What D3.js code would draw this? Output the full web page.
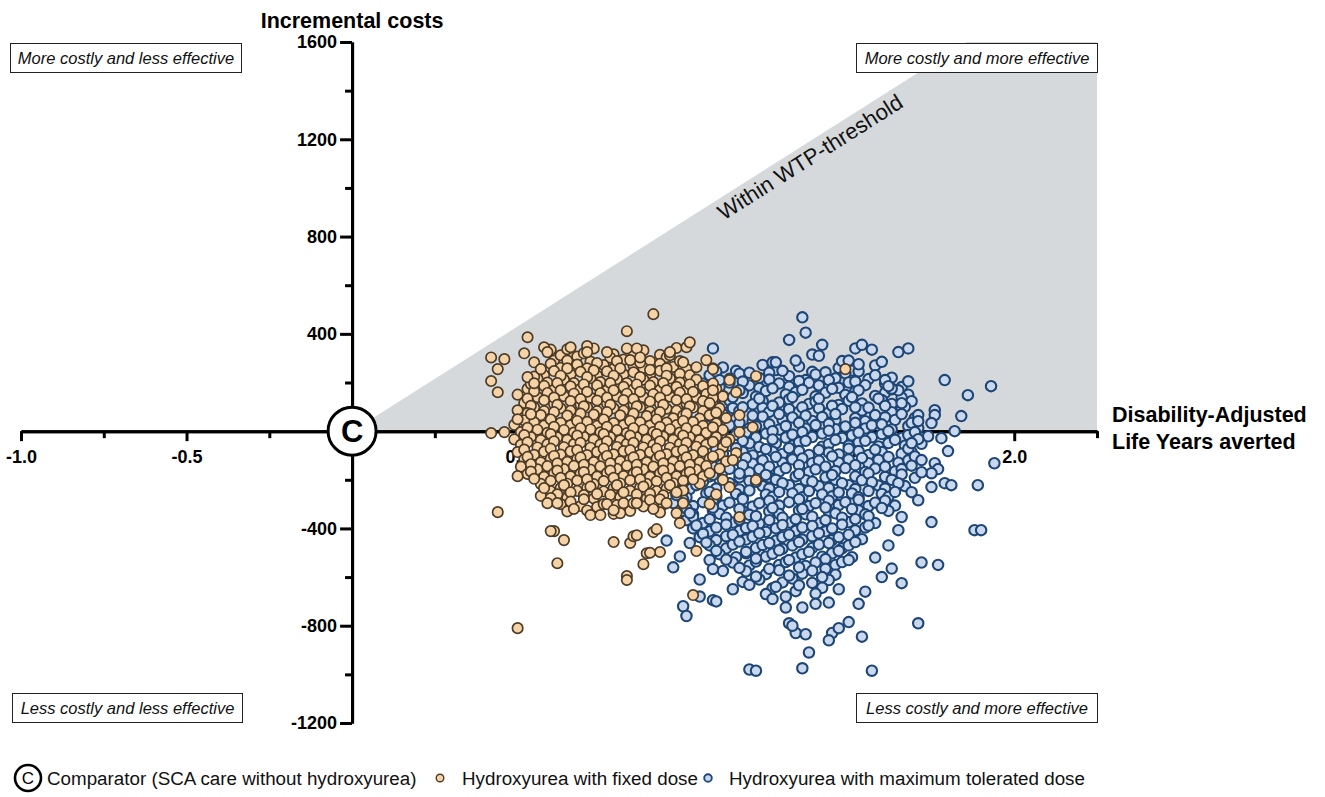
<!DOCTYPE html>
<html>
<head>
<meta charset="utf-8">
<script src="https://cdn.jsdelivr.net/npm/d3@7"></script>
<style>
  body { margin: 0; background: #fff; }
  svg { display: block; }
  text { font-family: "Liberation Sans", Arial, Helvetica, sans-serif; }
</style>
</head>
<body>
<svg id="chart" width="1325" height="797"></svg>
<script>
// ---- axis ticks ----
const xMajorTicks = [-1, -0.5, 0.5, 1, 1.5, 2];
const xMinorTicks = [-0.75, -0.25, 0.25, 0.75, 1.25, 1.75, 2.25];
const yMajorTicks = [1600, 1200, 800, 400, -400, -800, -1200];
const yMinorTicks = [1400, 1000, 600, 200, -200, -600, -1000];

// willingness-to-pay threshold (costs per DALY averted)
const wtpThreshold = 862;

// ---- quadrant and legend texts ----
const quadrantLabels = [
  "More costly and less effective",
  "More costly and more effective",
  "Less costly and less effective",
  "Less costly and more effective"
];
const legendLabels = [
  "Comparator (SCA care without hydroxyurea)",
  "Hydroxyurea with fixed dose",
  "Hydroxyurea with maximum tolerated dose"
];

// ---- PSA iterations: [DALYs averted, incremental costs] ----
const maxTolerated = [
  [1.12,262],[1.16,248],[1.24,272],[1.28,251],[1.35,266],[1.39,244],[1.47,260],[1.51,249],[1.58,270],
  [1.08,230],[1.14,215],[1.17,236],[1.23,219],[1.26,240],[1.32,226],[1.37,210],[1.40,233],[1.46,217],[1.49,238],[1.56,214],[1.58,230],[1.63,220],
  [1.06,195],[1.11,181],[1.14,200],[1.20,188],[1.23,177],[1.29,196],[1.32,183],[1.38,199],[1.41,188],[1.47,178],[1.50,200],[1.55,189],[1.61,196],[1.66,181],
  [1.04,150],[1.09,163],[1.12,145],[1.18,157],[1.22,142],[1.25,165],[1.31,151],[1.34,160],[1.40,143],[1.43,158],[1.49,149],[1.52,163],[1.58,145],[1.61,158],[1.68,150],
  [1.03,115],[1.06,128],[1.12,112],[1.14,126],[1.21,110],[1.24,124],[1.29,118],[1.32,130],[1.38,112],[1.40,121],[1.47,108],[1.50,125],[1.54,114],[1.60,128],[1.63,112],[1.69,123],
  [1.01,80],[1.07,92],[1.09,78],[1.15,95],[1.17,83],[1.24,96],[1.26,79],[1.32,90],[1.35,80],[1.41,94],[1.44,77],[1.48,91],[1.54,85],[1.56,97],[1.63,78],[1.66,90],
  [1.04,46],[1.06,58],[1.13,44],[1.16,52],[1.21,40],[1.24,60],[1.30,47],[1.33,56],[1.39,42],[1.42,58],[1.46,45],[1.52,53],[1.55,41],[1.61,57],[1.64,46],[1.70,54],
  [1.02,10],[1.07,22],[1.10,8],[1.14,24],[1.20,12],[1.22,20],[1.29,6],[1.31,21],[1.37,10],[1.40,25],[1.46,8],[1.49,19],[1.55,11],[1.57,24],[1.63,7],[1.68,20],[1.71,12],
  [1.05,-24],[1.08,-12],[1.13,-28],[1.16,-15],[1.22,-26],[1.25,-10],[1.31,-27],[1.33,-14],[1.39,-24],[1.42,-10],[1.48,-28],[1.51,-17],[1.57,-25],[1.60,-12],[1.66,-28],[1.68,-16],
  [1.01,-50],[1.06,-63],[1.11,-46],[1.14,-60],[1.20,-50],[1.23,-65],[1.28,-50],[1.33,-60],[1.35,-46],[1.42,-64],[1.44,-53],[1.50,-60],[1.53,-46],[1.59,-63],[1.62,-49],[1.67,-60],[1.72,-52],
  [1.00,-86],[1.05,-98],[1.08,-82],[1.12,-95],[1.18,-85],[1.21,-100],[1.27,-84],[1.30,-94],[1.35,-82],[1.38,-98],[1.44,-88],[1.47,-96],[1.53,-82],[1.56,-98],[1.60,-86],[1.66,-93],[1.69,-86],
  [0.99,-120],[1.04,-132],[1.07,-116],[1.13,-130],[1.16,-118],[1.21,-134],[1.24,-120],[1.30,-130],[1.33,-116],[1.39,-132],[1.41,-121],[1.47,-130],[1.50,-116],[1.56,-132],[1.59,-118],[1.65,-130],[1.68,-120],
  [0.98,-156],[1.03,-168],[1.06,-152],[1.12,-166],[1.14,-155],[1.20,-170],[1.23,-156],[1.29,-166],[1.31,-152],[1.38,-168],[1.40,-157],[1.46,-164],[1.49,-152],[1.55,-168],[1.58,-154],[1.64,-166],[1.66,-156],
  [0.99,-190],[1.02,-202],[1.08,-186],[1.11,-200],[1.17,-190],[1.20,-205],[1.26,-190],[1.28,-200],[1.34,-186],[1.37,-202],[1.43,-190],[1.46,-200],[1.52,-186],[1.54,-202],[1.61,-188],[1.63,-200],[1.70,-192],
  [0.97,-226],[1.02,-238],[1.04,-222],[1.10,-236],[1.15,-224],[1.17,-240],[1.24,-226],[1.26,-236],[1.32,-222],[1.35,-238],[1.41,-226],[1.44,-234],[1.50,-222],[1.52,-238],[1.59,-224],[1.61,-236],[1.67,-226],
  [0.98,-260],[1.01,-272],[1.07,-256],[1.10,-270],[1.16,-258],[1.18,-274],[1.25,-260],[1.27,-270],[1.33,-256],[1.36,-272],[1.42,-260],[1.45,-268],[1.51,-256],[1.53,-272],[1.60,-258],[1.62,-270],
  [0.97,-296],[1.03,-308],[1.06,-292],[1.12,-306],[1.14,-294],[1.21,-310],[1.23,-296],[1.29,-306],[1.32,-292],[1.38,-308],[1.40,-296],[1.47,-304],[1.49,-292],[1.56,-308],[1.58,-294],[1.64,-306],
  [1.00,-330],[1.03,-342],[1.09,-326],[1.11,-340],[1.18,-328],[1.20,-344],[1.26,-330],[1.29,-340],[1.35,-326],[1.37,-342],[1.44,-330],[1.46,-338],[1.53,-326],[1.55,-342],[1.62,-328],
  [1.01,-366],[1.06,-378],[1.08,-362],[1.15,-376],[1.17,-364],[1.23,-380],[1.26,-366],[1.32,-376],[1.34,-362],[1.41,-378],[1.43,-366],[1.50,-374],[1.52,-362],[1.58,-378],
  [1.03,-400],[1.08,-412],[1.10,-396],[1.17,-410],[1.19,-398],[1.25,-414],[1.28,-400],[1.34,-410],[1.36,-396],[1.43,-412],[1.45,-400],[1.52,-408],[1.55,-396],
  [1.05,-436],[1.10,-448],[1.13,-432],[1.19,-446],[1.21,-434],[1.28,-450],[1.30,-436],[1.36,-446],[1.39,-432],[1.45,-448],[1.47,-436],[1.54,-444],
  [1.08,-470],[1.13,-482],[1.15,-466],[1.22,-480],[1.24,-468],[1.30,-484],[1.33,-470],[1.39,-480],[1.41,-466],[1.48,-482],[1.50,-470],
  [1.11,-506],[1.16,-518],[1.19,-502],[1.25,-516],[1.27,-504],[1.34,-520],[1.36,-506],[1.42,-516],[1.45,-502],[1.51,-518],
  [1.15,-540],[1.20,-552],[1.22,-536],[1.29,-550],[1.31,-538],[1.37,-554],[1.40,-540],[1.46,-550],[1.48,-538],
  [1.19,-576],[1.25,-588],[1.29,-572],[1.36,-586],[1.39,-574],[1.46,-590],
  [1.23,-610],[1.30,-622],[1.33,-606],[1.39,-624],[1.44,-612],
  [1.27,-646],[1.34,-658],
  [1.18,-620],[1.20,-632],[1.28,-640],[1.35,-634],[1.42,-644],[1.25,-670],[1.31,-680],[1.40,-668],[1.47,-650],
  // second band of iterations inside the main cloud
  [1.10,245],[1.20,240],[1.30,248],[1.43,242],[1.53,246],
  [1.11,210],[1.18,204],[1.26,212],[1.35,206],[1.44,210],[1.52,204],[1.61,210],
  [1.08,172],[1.17,168],[1.27,176],[1.36,170],[1.45,174],[1.53,168],[1.63,172],
  [1.06,136],[1.15,140],[1.23,134],[1.33,140],[1.41,134],[1.51,140],[1.59,134],[1.66,138],
  [1.05,100],[1.10,104],[1.18,98],[1.27,104],[1.36,98],[1.45,104],[1.52,98],[1.61,104],[1.67,100],
  [1.04,66],[1.12,70],[1.21,64],[1.29,70],[1.37,64],[1.46,70],[1.58,66],[1.66,70],
  [1.05,30],[1.17,34],[1.26,28],[1.35,34],[1.44,30],[1.52,34],[1.60,28],[1.69,34],
  [1.04,-4],[1.11,0],[1.19,-6],[1.27,0],[1.36,-4],[1.44,2],[1.53,-6],[1.62,0],[1.70,-4],
  [1.03,-38],[1.10,-34],[1.18,-40],[1.27,-34],[1.37,-40],[1.46,-36],[1.55,-40],[1.64,-36],
  [1.03,-72],[1.10,-76],[1.16,-70],[1.25,-74],[1.32,-70],[1.41,-78],[1.50,-72],[1.58,-76],[1.68,-72],
  [1.02,-108],[1.10,-104],[1.19,-110],[1.28,-106],[1.36,-112],[1.45,-104],[1.54,-110],[1.62,-106],[1.70,-104],
  [1.01,-142],[1.09,-146],[1.18,-140],[1.26,-146],[1.35,-140],[1.43,-146],[1.52,-140],[1.61,-146],[1.69,-142],
  [1.00,-176],[1.09,-180],[1.17,-174],[1.25,-180],[1.35,-176],[1.45,-180],[1.56,-174],[1.66,-178],
  [1.00,-212],[1.06,-208],[1.14,-214],[1.22,-208],[1.30,-214],[1.39,-208],[1.48,-214],[1.57,-210],[1.65,-214],
  [1.00,-246],[1.08,-250],[1.20,-244],[1.29,-250],[1.38,-246],[1.47,-252],[1.56,-246],[1.64,-250],
  [1.00,-282],[1.09,-286],[1.18,-280],[1.26,-286],[1.35,-280],[1.44,-286],[1.53,-282],[1.61,-286],
  [1.01,-318],[1.09,-314],[1.17,-320],[1.27,-316],[1.36,-320],[1.43,-314],[1.51,-320],[1.60,-316],
  [1.03,-352],[1.13,-356],[1.22,-350],[1.30,-356],[1.39,-352],[1.48,-356],[1.56,-350],
  [1.04,-388],[1.13,-384],[1.21,-390],[1.30,-386],[1.39,-390],[1.48,-384],[1.56,-388],
  [1.06,-422],[1.15,-426],[1.23,-420],[1.32,-426],[1.41,-420],[1.50,-426],
  [1.07,-458],[1.17,-454],[1.26,-460],[1.35,-456],[1.44,-460],[1.52,-456],
  [1.10,-492],[1.19,-496],[1.29,-490],[1.38,-496],[1.47,-492],
  [1.13,-528],[1.22,-524],[1.32,-530],[1.43,-526],[1.50,-530],
  [1.17,-562],[1.26,-566],[1.35,-560],[1.43,-566],
  [1.22,-598],[1.32,-594],[1.42,-600],
  // sparse iterations around the main cloud
  [1.36,468],[1.37,405],[1.32,375],[1.09,340],[1.42,355],[1.52,340],[1.54,355],[1.57,335],[1.65,325],[1.68,340],
  [1.60,285],[1.39,315],[1.41,310],[1.27,283],[1.28,283],[1.34,290],[1.48,288],[1.50,290],[1.53,275],
  [1.68,205],[1.65,168],[1.66,115],[1.63,175],[1.62,185],[1.79,210],[1.86,148],[1.93,185],[1.84,62],[1.82,0],
  [1.76,86],[1.71,66],[1.71,41],[1.76,66],[1.75,33],[1.78,-29],[1.74,-21],[1.71,-33],[1.69,-49],[1.80,-82],
  [1.72,-119],[1.76,-132],[1.77,-156],[1.75,-173],[1.79,-214],[1.81,-222],[1.89,-222],[1.94,-132],[1.72,-169],
  [1.69,-251],[1.71,-284],[1.75,-230],[1.75,-374],[1.88,-407],[1.90,-407],[1.66,-353],[1.65,-407],
  [1.77,-550],[1.72,-540],[1.66,-625],[1.63,-565],[1.71,-790],[1.57,-985],[1.36,-975],[1.20,-980],[1.22,-985],
  [1.38,-910],[1.54,-845],[1.53,-710],[1.50,-785],[1.45,-830],[1.44,-860],[1.47,-810],[1.34,-830],[1.37,-835],
  [1.32,-790],[1.33,-800],[1.27,-690],[1.31,-725],[1.36,-725],[1.40,-710],[1.44,-705],[1.00,-720],[1.01,-760],
  [1.05,-680],[1.09,-695],[1.10,-700],[1.05,-610],[0.99,-515],[1.02,-460],[1.08,-530],[1.12,-575],[1.09,-567],
  [0.98,-263],[1.02,-337],[0.95,-450],[0.97,-560],[1.55,-660],[1.60,-600],[1.58,-520],[1.62,-470],[1.15,-650]
];

const fixedDose = [
  [0.60,335],[0.66,318],[0.73,340],[0.79,316],[0.88,332],[0.93,314],[0.98,342],
  [0.61,290],[0.68,307],[0.72,286],[0.78,302],[0.82,294],[0.90,288],[0.95,304],
  [0.60,277],[0.63,260],[0.68,274],[0.71,258],[0.76,272],[0.79,256],[0.85,270],[0.88,260],[0.93,277],[0.97,264],[1.01,256],
  [0.58,230],[0.61,247],[0.66,234],[0.69,244],[0.74,228],[0.77,246],[0.82,234],[0.85,242],[0.90,229],[0.93,248],[0.99,236],[1.02,230],
  [0.56,216],[0.59,200],[0.64,212],[0.67,198],[0.72,218],[0.75,202],[0.80,214],[0.83,198],[0.88,212],[0.91,202],[0.96,217],[0.99,200],[1.04,212],
  [0.53,174],[0.58,186],[0.61,170],[0.66,184],[0.69,174],[0.74,188],[0.77,168],[0.82,182],[0.85,172],[0.90,187],[0.93,170],[0.98,182],[1.01,168],[1.06,185],[1.10,174],
  [0.50,150],[0.56,140],[0.59,157],[0.64,144],[0.67,154],[0.72,138],[0.75,156],[0.80,143],[0.83,154],[0.88,140],[0.91,152],[0.96,142],[0.99,158],[1.04,140],[1.07,152],[1.12,143],
  [0.52,116],[0.58,127],[0.61,112],[0.66,124],[0.69,110],[0.74,126],[0.77,114],[0.82,128],[0.85,110],[0.90,122],[0.93,112],[0.98,128],[1.01,114],[1.06,124],[1.09,110],
  [0.50,86],[0.55,97],[0.58,82],[0.63,94],[0.66,84],[0.71,98],[0.74,82],[0.79,94],[0.82,84],[0.87,98],[0.90,80],[0.95,92],[0.98,84],[1.03,97],[1.06,82],[1.11,94],
  [0.52,56],[0.57,66],[0.60,53],[0.65,64],[0.68,52],[0.73,68],[0.76,55],[0.81,65],[0.84,50],[0.89,62],[0.92,68],[0.97,53],[1.00,64],[1.05,52],[1.08,66],[1.13,54],
  [0.49,26],[0.55,36],[0.58,23],[0.63,34],[0.66,24],[0.71,38],[0.74,22],[0.79,33],[0.82,24],[0.87,36],[0.90,23],[0.95,35],[0.98,25],[1.03,37],[1.06,22],[1.10,32],
  [0.51,-4],[0.56,6],[0.59,-7],[0.64,5],[0.67,-6],[0.72,7],[0.75,-5],[0.80,4],[0.83,-8],[0.88,6],[0.91,-4],[0.96,8],[0.99,-6],[1.04,4],[1.07,-7],[1.12,5],
  [0.49,-34],[0.54,-24],[0.57,-37],[0.62,-26],[0.65,-36],[0.70,-23],[0.73,-35],[0.78,-25],[0.81,-38],[0.86,-26],[0.89,-35],[0.94,-22],[0.97,-36],[1.02,-25],[1.05,-37],[1.10,-24],[1.14,-34],
  [0.51,-56],[0.56,-67],[0.59,-54],[0.64,-66],[0.67,-53],[0.72,-68],[0.75,-55],[0.80,-65],[0.83,-52],[0.88,-67],[0.91,-56],[0.96,-68],[0.99,-53],[1.04,-64],[1.07,-55],[1.12,-66],
  [0.50,-86],[0.55,-97],[0.58,-84],[0.63,-96],[0.66,-83],[0.71,-98],[0.74,-85],[0.79,-95],[0.82,-82],[0.87,-97],[0.90,-86],[0.95,-94],[0.98,-84],[1.03,-98],[1.06,-83],[1.11,-95],
  [0.52,-116],[0.57,-128],[0.60,-113],[0.65,-126],[0.68,-114],[0.73,-127],[0.76,-112],[0.81,-124],[0.84,-115],[0.89,-128],[0.92,-113],[0.97,-125],[1.00,-116],[1.05,-128],[1.08,-113],[1.13,-124],
  [0.51,-146],[0.56,-157],[0.59,-144],[0.64,-156],[0.67,-143],[0.72,-158],[0.75,-145],[0.80,-155],[0.83,-142],[0.88,-157],[0.91,-146],[0.96,-154],[0.99,-144],[1.04,-158],[1.07,-143],[1.11,-154],
  [0.53,-176],[0.58,-188],[0.61,-173],[0.66,-186],[0.69,-174],[0.74,-187],[0.77,-172],[0.82,-185],[0.85,-175],[0.90,-188],[0.93,-173],[0.98,-186],[1.01,-176],[1.06,-187],
  [0.57,-217],[0.60,-204],[0.65,-216],[0.68,-203],[0.73,-218],[0.76,-205],[0.81,-215],[0.84,-202],[0.89,-217],[0.92,-206],[0.97,-214],[1.00,-204],[1.05,-216],
  [0.60,-247],[0.63,-234],[0.68,-246],[0.71,-233],[0.76,-248],[0.79,-235],[0.84,-245],[0.87,-232],[0.92,-247],[0.95,-236],[1.00,-244],
  [0.57,-266],[0.62,-260],[0.65,-274],[0.70,-263],[0.73,-277],[0.78,-262],[0.81,-272],[0.86,-260],[0.89,-276],[0.94,-264],
  // second band of iterations inside the main cloud
  [0.63,312],[0.70,320],[0.85,318],[0.96,312],
  [0.65,290],[0.74,280],[0.80,288],[0.87,282],[0.99,288],
  [0.65,258],[0.73,250],[0.81,258],[0.90,252],[0.95,258],
  [0.55,224],[0.63,228],[0.71,222],[0.79,228],[0.87,222],[0.95,228],
  [0.54,194],[0.62,198],[0.70,192],[0.78,198],[0.86,192],[0.94,198],[1.02,192],[1.09,196],
  [0.55,164],[0.63,168],[0.71,162],[0.79,168],[0.87,162],[0.95,168],[1.03,162],
  [0.53,134],[0.61,138],[0.69,132],[0.77,138],[0.85,132],[0.93,138],[1.01,132],[1.09,136],
  [0.54,104],[0.62,108],[0.70,102],[0.78,108],[0.86,102],[0.94,108],[1.02,102],
  [0.53,74],[0.61,78],[0.69,72],[0.77,78],[0.85,72],[0.93,78],[1.01,72],[1.10,76],
  [0.52,44],[0.60,48],[0.68,42],[0.76,48],[0.84,42],[0.92,48],[1.00,42],
  [0.53,14],[0.61,18],[0.69,12],[0.77,18],[0.85,12],[0.93,18],[1.01,12],[1.09,16],
  [0.52,-16],[0.60,-12],[0.68,-18],[0.76,-12],[0.84,-18],[0.92,-12],[1.00,-18],
  [0.53,-46],[0.61,-42],[0.69,-48],[0.77,-42],[0.85,-48],[0.93,-42],[1.01,-48],[1.09,-44],
  [0.52,-76],[0.60,-72],[0.68,-78],[0.76,-72],[0.84,-78],[0.92,-72],[1.00,-78],
  [0.53,-106],[0.61,-102],[0.69,-108],[0.77,-102],[0.85,-108],[0.93,-102],[1.01,-108],[1.09,-104],
  [0.54,-136],[0.62,-132],[0.70,-138],[0.78,-132],[0.86,-138],[0.94,-132],[1.02,-138],
  [0.54,-166],[0.62,-162],[0.70,-168],[0.78,-162],[0.86,-168],[0.94,-162],[1.02,-168],
  [0.55,-196],[0.63,-192],[0.71,-198],[0.79,-192],[0.87,-198],[0.95,-192],[1.03,-198],
  [0.64,-222],[0.72,-228],[0.80,-222],[0.88,-228],[0.96,-222],
  [0.66,-252],[0.74,-258],[0.82,-252],[0.90,-258],[0.98,-252],
  [0.63,-300],[0.69,-308],[0.74,-312],[0.80,-304],[0.88,-310],[0.94,-302],
  [0.65,-330],[0.71,-326],[0.84,-328],[0.93,-334],
  // sparse iterations around the main cloud
  [0.91,481],[0.83,411],[0.53,386],[0.58,345],[0.59,325],[0.52,320],[0.42,303],[0.46,296],[0.44,255],[0.42,206],
  [0.44,160],[0.55,283],[0.57,255],[0.53,222],[0.55,197],[0.65,337],[0.66,345],[0.71,350],[0.71,325],[0.77,325],
  [0.83,340],[0.86,340],[0.84,292],[0.87,303],[0.96,325],[1.01,345],[1.02,365],[1.00,283],[1.04,263],[1.07,292],[1.09,258],
  [0.42,-8],[0.46,-4],[0.50,49],[0.54,70],
  [0.50,-185],[0.44,-333],[0.58,-234],[0.60,-275],[0.59,-296],[0.62,-296],[0.66,-290],[0.67,-320],[0.70,-280],
  [0.72,-345],[0.75,-345],[0.76,-300],[0.77,-300],[0.79,-340],[0.81,-337],[0.79,-325],[0.82,-296],[0.85,-296],
  [0.86,-296],[0.90,-283],[0.91,-320],[0.93,-280],[0.95,-296],[0.98,-337],[1.00,-296],[0.99,-378],[0.61,-411],
  [0.60,-411],[0.64,-448],[0.62,-543],[0.79,-456],[0.84,-460],[0.85,-432],[0.86,-428],[0.83,-596],[0.83,-612],
  [0.88,-547],[0.89,-502],[0.93,-497],[0.90,-500],[0.91,-415],[0.92,-403],[0.50,-810],[1.04,-493],[1.03,-674],
  [1.17,-353],[1.22,-201],[1.49,255],[1.09,255],[1.14,210],[1.16,160],[1.09,168],[1.08,115],[1.17,66],[1.17,-4],
  [1.21,16],[1.22,226],[1.13,-45],[1.16,-90],[1.15,-119],[1.08,-173],[1.14,-230],[1.10,-260],[1.08,-300],[1.12,-200]
];

// ---- layout ----
const svg = d3.select("#chart");
const x = d3.scaleLinear().domain([-1, 2.25]).range([21, 1097]);
const y = d3.scaleLinear().domain([-1200, 1600]).range([723, 42]);

// shaded region below the WTP threshold line (cost-effective quadrant)
const wtpTop = 1600 / wtpThreshold;
const region = [[0, 0], [wtpTop, 1600], [2.25, 1600], [2.25, 0]];
svg.append("path")
  .attr("d", d3.line().x(d => x(d[0])).y(d => y(d[1]))(region) + "Z")
  .attr("fill", "#d6d9db");

// label along the threshold line
const ang = Math.atan2(y(0) - y(wtpThreshold), x(1) - x(0)) * 180 / Math.PI;
svg.append("text")
  .attr("transform", `translate(810,157) rotate(${-ang})`)
  .attr("text-anchor", "middle")
  .attr("dy", "0.35em")
  .attr("font-size", 22)
  .attr("fill", "#111")
  .text("Within WTP-threshold");

// ---- axes ----
function styleAxis(g) {
  g.select(".domain").attr("stroke", "#000").attr("stroke-width", 3);
  g.selectAll(".tick line").attr("stroke", "#000").attr("stroke-width", 3);
  g.selectAll(".tick text")
    .attr("fill", "#000")
    .attr("font-family", "'Liberation Sans', Arial, sans-serif")
    .attr("font-weight", "bold")
    .attr("font-size", 18);
}

const xAxisG = svg.append("g").attr("transform", `translate(0,${y(0)})`);
xAxisG.call(d3.axisBottom(x).tickValues(xMajorTicks).tickSize(10).tickSizeOuter(0)
  .tickPadding(9).tickFormat(d => d.toFixed(1)));
styleAxis(xAxisG);
const xMinorG = svg.append("g").attr("transform", `translate(0,${y(0)})`);
xMinorG.call(d3.axisBottom(x).tickValues(xMinorTicks).tickSize(7).tickSizeOuter(0).tickFormat(""));
styleAxis(xMinorG);

const yAxisG = svg.append("g").attr("transform", `translate(${x(0)},0)`);
yAxisG.call(d3.axisLeft(y).tickValues(yMajorTicks).tickSize(12).tickSizeOuter(0)
  .tickPadding(3).tickFormat(d => String(d)));
styleAxis(yAxisG);
const yMinorG = svg.append("g").attr("transform", `translate(${x(0)},0)`);
yMinorG.call(d3.axisLeft(y).tickValues(yMinorTicks).tickSize(7).tickSizeOuter(0).tickFormat(""));
styleAxis(yMinorG);

// ---- scatter ----
svg.append("g").selectAll("circle").data(maxTolerated).join("circle")
  .attr("cx", d => x(d[0])).attr("cy", d => y(d[1])).attr("r", 5.2)
  .attr("fill", "#c9d8ec").attr("stroke", "#1d4676").attr("stroke-width", 2.1);

svg.append("g").selectAll("circle").data(fixedDose).join("circle")
  .attr("cx", d => x(d[0])).attr("cy", d => y(d[1])).attr("r", 5.2)
  .attr("fill", "#f6d3a6").attr("stroke", "#4c3b27").attr("stroke-width", 1.7);

// comparator at the origin
svg.append("circle").attr("cx", x(0)).attr("cy", y(0)).attr("r", 24)
  .attr("fill", "#fff").attr("stroke", "#000").attr("stroke-width", 3);
svg.append("text").attr("x", x(0)).attr("y", y(0)).attr("dy", "0.36em")
  .attr("text-anchor", "middle").attr("font-weight", "bold").attr("font-size", 31).text("C");

// ---- axis titles ----
svg.append("text").attr("x", x(0)).attr("y", 28).attr("text-anchor", "middle")
  .attr("font-weight", "bold").attr("font-size", 21.5).text("Incremental costs");
svg.append("text").attr("x", 1112).attr("y", 422)
  .attr("font-weight", "bold").attr("font-size", 21.5).text("Disability-Adjusted");
svg.append("text").attr("x", 1112).attr("y", 449)
  .attr("font-weight", "bold").attr("font-size", 21.5).text("Life Years averted");

// ---- quadrant boxes ----
const boxes = [
  { x: 10, y: 43, w: 231 }, { x: 856, y: 43, w: 241 },
  { x: 12, y: 693, w: 230 }, { x: 856, y: 693, w: 241 }
];
boxes.forEach((b, i) => {
  svg.append("rect").attr("x", b.x + 0.5).attr("y", b.y + 0.5).attr("width", b.w).attr("height", 29)
    .attr("fill", "#fff").attr("stroke", "#222").attr("stroke-width", 1);
  svg.append("text").attr("x", b.x + b.w / 2 + 0.5).attr("y", b.y + 15).attr("dy", "0.35em")
    .attr("text-anchor", "middle").attr("font-style", "italic").attr("font-size", 16.5)
    .attr("fill", "#111").text(quadrantLabels[i]);
});

// ---- legend ----
const ly = 778;
svg.append("circle").attr("cx", 28).attr("cy", ly).attr("r", 13)
  .attr("fill", "#fff").attr("stroke", "#000").attr("stroke-width", 2.6);
svg.append("text").attr("x", 28).attr("y", ly).attr("dy", "0.36em").attr("text-anchor", "middle")
  .attr("font-size", 17).text("C");
svg.append("text").attr("x", 47).attr("y", ly).attr("dy", "0.36em").attr("font-size", 18.8)
  .attr("fill", "#111").text(legendLabels[0]);
svg.append("circle").attr("cx", 440).attr("cy", ly).attr("r", 3.8)
  .attr("fill", "#f6d3a6").attr("stroke", "#4c3b27").attr("stroke-width", 1.4);
svg.append("text").attr("x", 462).attr("y", ly).attr("dy", "0.36em").attr("font-size", 18.8)
  .attr("fill", "#111").text(legendLabels[1]);
svg.append("circle").attr("cx", 708).attr("cy", ly).attr("r", 3.8)
  .attr("fill", "#c9d8ec").attr("stroke", "#1d4676").attr("stroke-width", 1.9);
svg.append("text").attr("x", 729).attr("y", ly).attr("dy", "0.36em").attr("font-size", 18.8)
  .attr("fill", "#111").text(legendLabels[2]);
</script>
</body>
</html>
